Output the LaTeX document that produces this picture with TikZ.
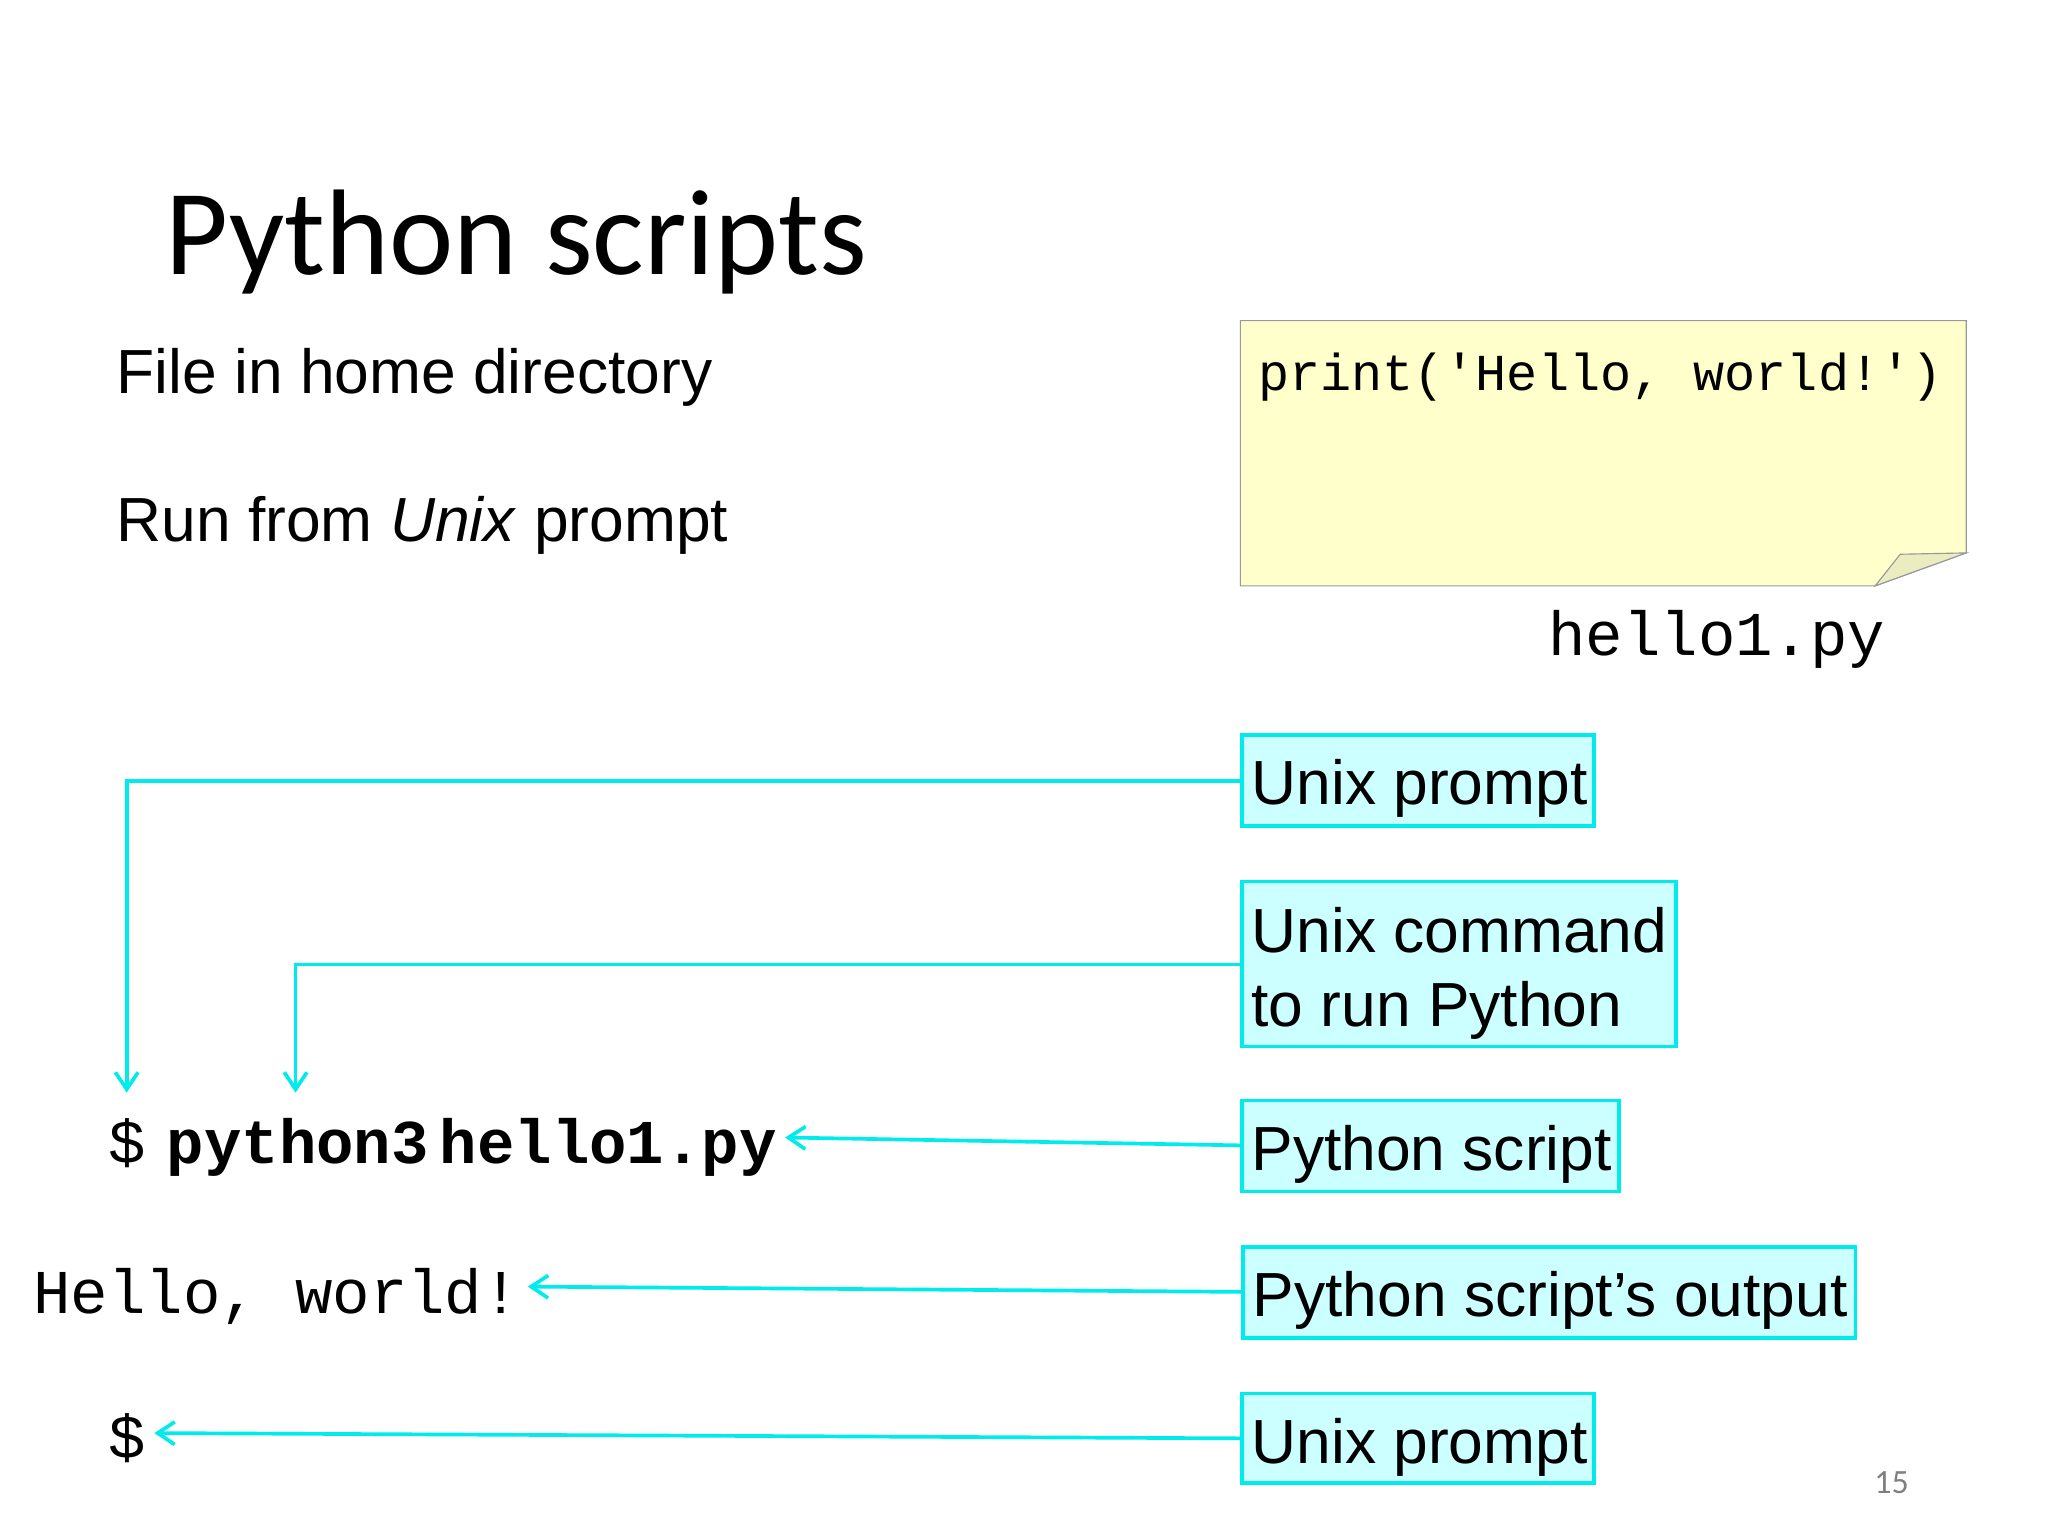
\documentclass[tikz,border=0pt]{standalone}
\usepackage{fontspec}
\setmainfont{Liberation Sans}
\setmonofont{Liberation Mono}
\newfontfamily\titlefont{Carlito}
\usetikzlibrary{arrows.meta}
\definecolor{cyb}{RGB}{0,235,235}
\definecolor{cyf}{RGB}{204,255,255}
\definecolor{noteY}{RGB}{255,255,204}
\tikzset{x=0.016366cm,y=-0.016366cm,
 txt/.style={anchor=base west,inner sep=0pt,font=\fontsize{22}{27}\selectfont},
 code/.style={anchor=base west,inner sep=0pt,font=\fontsize{22}{26}\ttfamily},
 lab/.style={draw=cyb,line width=1.3pt,fill=cyf},
 conn/.style={cyb,line width=1.3pt,-{Straight Barb[length=6pt,width=8pt]}}}
\begin{document}
\begin{tikzpicture}
\useasboundingbox (0,0) rectangle (1552,1164);
\node[anchor=base west,inner sep=0pt,font=\titlefont\fontsize{43}{50}\selectfont] (title) at (125,208) {Python scripts};
\node[txt] (t1) at (88,298) {File in home directory};
\node[txt] (t2) at (88,410) {Run from \textit{Unix} prompt};
\draw[fill=noteY,draw=gray!80] (940,243) -- (1490,243) -- (1490,419) -- (1421,444) -- (940,444) -- cycle;
\draw[fill=noteY!85!gray,draw=gray!80] (1490,419) -- (1421,444) -- (1440,420) -- cycle;
\node[anchor=base west,inner sep=0pt,font=\fontsize{18.3}{22}\ttfamily] (code) at (953,296) {print('Hello, world!')};
\node[code] (fn) at (1173,497) {hello1.py};
\draw[lab] (941,557) rectangle (1208,626); \node[txt] (b1) at (948,610) {Unix prompt};
\draw[lab] (941,668) rectangle (1270,793); \node[txt] (b2a) at (948,722) {Unix command}; \node[txt] (b2b) at (948,778) {to run Python};
\draw[lab] (941,834) rectangle (1227,903); \node[txt] (b3) at (948,887) {Python script};
\draw[lab] (942,945) rectangle (1406,1014); \node[txt] (b4) at (949,998) {Python script’s output};
\draw[lab] (941,1056) rectangle (1208,1124); \node[txt] (b5) at (948,1109) {Unix prompt};
\node[code] (d1) at (82,882) {\$};
\node[code] (py) at (126,882) {\bfseries python3};
\node[code] (hf) at (333,882) {\bfseries hello1.py};
\node[code] (hw) at (25,995) {Hello, world!};
\node[code] (d2) at (82,1105) {\$};
\node[anchor=base west,inner sep=0pt,font=\titlefont\fontsize{12}{14}\selectfont,text=gray] (pg) at (1420,1132) {15};
\draw[conn] (941,592) -- (96,592) -- (96,828);
\draw[conn] (941,731) -- (224,731) -- (224,828);
\draw[conn] (941,868) -- (595,862);
\draw[conn] (941,979) -- (400,975);
\draw[conn] (941,1090) -- (117,1086);
\end{tikzpicture}
\end{document}
